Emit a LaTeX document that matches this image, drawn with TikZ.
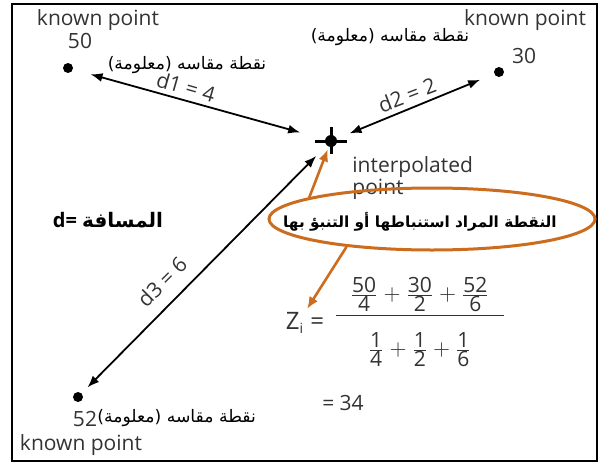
\documentclass[tikz,border=0pt]{standalone}
\usepackage{fontspec}
\setmainfont{Open Sans}
\newfontfamily\arabicfont[Script=Arabic]{DejaVu Sans}
\TeXXeTstate=1
\usetikzlibrary{arrows.meta,shapes.geometric}
\definecolor{ochre}{RGB}{204,108,30}
\newcommand{\ar}[1]{{\arabicfont\beginR #1\endR}}
\newcommand{\fr}[2]{\frac{\mbox{#1}}{\mbox{#2}}}
\begin{document}
\begin{tikzpicture}[x=0.5pt, y=-0.5pt,
		lbl/.style={font=\fontsize{10.5}{12}\selectfont, text=black!80, inner sep=0pt},
		arlbl/.style={font=\fontsize{8.6}{11}\selectfont, inner sep=0pt},
		dot/.style={circle, fill=black, minimum size=5pt, inner sep=0pt},
		dist/.style={<->, >={Latex[length=6pt,width=4.5pt]}, line width=0.9pt},
		hint/.style={->, >={Latex[length=6pt,width=5pt]}, ochre, line width=1.3pt}]
	\useasboundingbox (0,0) rectangle (603,465);
	\draw[line width=1pt] (12,4) rectangle (597,461);
	\node[dot] (p50) at (68,68) {};
	\node[dot] (p30) at (499,72) {};
	\node[dot] (p52) at (78,397) {};
	\coordinate (zi) at (331,141);
	\node[lbl] (kp50) at (98,20) {known point};
	\node[lbl] (n50) at (80,41) {50};
	\node[arlbl] (a50) at (187,65) {\ar{نقطة مقاسه (معلومة)}};
	\node[lbl] (kp30) at (525,20) {known point};
	\node[lbl] (n30) at (524,56) {30};
	\node[arlbl] (a30) at (390,37) {\ar{نقطة مقاسه (معلومة)}};
	\node[lbl] (n52) at (85,419) {52};
	\node[arlbl, anchor=west] (a52) at (97,418) {\ar{نقطة مقاسه (معلومة)}};
	\node[lbl] (kp52) at (81,445) {known point};
	\draw[line width=1.5pt] (zi) ++(-16,0) -- ++(32,0);
	\draw[line width=1.5pt] (zi) ++(0,-14) -- ++(0,27);
	\fill (zi) circle (3pt);
	\draw[dist, shorten <=9pt, shorten >=16pt] (p50) -- (zi);
	\draw[dist, shorten <=10pt, shorten >=7.5pt] (zi) -- (p30);
	\draw[dist, shorten <=10.5pt, shorten >=4pt] (zi) -- (p52);
	\node[lbl, rotate=-16] (d1) at (186,87) {d1 = 4};
	\node[lbl, rotate=21] (d2) at (407,95) {d2 = 2};
	\node[lbl, rotate=45] (d3) at (162,282) {d3 = 6};
	\node[arlbl, font=\fontsize{10}{12}\bfseries] (dd) at (108,220) {d= \ar{المسافة}};
	\node[lbl, align=left, anchor=north west, font=\fontsize{10.5}{9.5}\selectfont] (ilbl) at (352,156) {interpolated\\point};
	\node[ellipse, draw=ochre, line width=1.5pt, minimum width=163pt, minimum height=31pt, inner sep=0pt] (target) at (432,219) {};
	\node[arlbl, font=\fontsize{7.65}{11}\bfseries] (ttxt) at (420,222) {\ar{النقطة المراد استنباطها أو التنبؤ بها}};
	\draw[hint, shorten >=4.5pt] (target.170) -- (zi);
	\node[lbl, font=\fontsize{12}{12}\selectfont] (zlbl) at (305,323) {Z$_{\mbox{\scriptsize i}}$ =};
	\node[lbl, anchor=west] (frac) at (333,322) {$\displaystyle\frac{\makebox[84pt]{$\fr{50}{4}+\fr{30}{2}+\fr{52}{6}$}\rule[-3pt]{0pt}{3pt}}{\rule{0pt}{19pt}\fr{1}{4}+\fr{1}{2}+\fr{1}{6}}$};
	\node[lbl] (res) at (343,403) {= 34};
	\draw[hint, shorten >=2pt] (target.198) -- (zlbl.north);
\end{tikzpicture}
\end{document}
